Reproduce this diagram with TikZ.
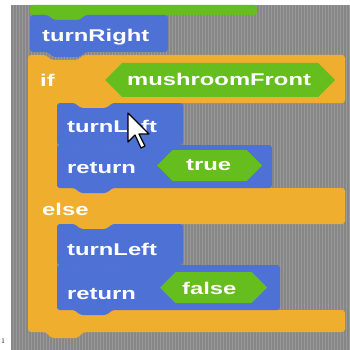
\documentclass[tikz,border=0pt]{standalone}
\usepackage{fontspec}
\usepackage{xcolor}
\usepackage{tikz}

\newfontfamily\blockfont{Liberation Sans}[FakeStretch=1.4]

\definecolor{blockblue}{HTML}{4E71D6}
\definecolor{ctrlorange}{HTML}{EFAE2E}
\definecolor{opgreen}{HTML}{66BD1E}
\definecolor{scriptgrey}{HTML}{878787}
\definecolor{stripegrey}{HTML}{999999}

\tikzset{
  blocktext/.style={text=white, inner sep=0pt, anchor=base west,
    font=\blockfont\bfseries\fontsize{17}{17}\selectfont},
}

\begin{document}
\begin{tikzpicture}[x=1pt, y=-1pt]
        \useasboundingbox (0,0) rectangle (350,350);

        % Command block: x, y, width, height
        \newcommand{\cmdblock}[4]{
            \fill[blockblue, rounded corners=3pt] (#1,#2) -- (#1+18,#2) -- (#1+23,#2+5) -- (#1+50,#2+5) -- (#1+55,#2) -- (#1+#3,#2) -- (#1+#3,#2+#4) -- (#1+55,#2+#4) -- (#1+50,#2+#4+5) -- (#1+23,#2+#4+5) -- (#1+18,#2+#4) -- (#1,#2+#4) -- cycle;
        }

        % Boolean reporter: left, top, right, bottom
        \newcommand{\hexreporter}[4]{
            \fill[opgreen] (#1,{(#2+#4)/2}) -- ({#1+(#4-#2)/2},#2) -- ({#3-(#4-#2)/2},#2) -- (#3,{(#2+#4)/2}) -- ({#3-(#4-#2)/2},#4) -- ({#1+(#4-#2)/2},#4) -- cycle;
        }

        % Script area
        \fill[scriptgrey] (11,5) rectangle (350,350);
        \foreach \x in {13,16,...,349}
            \draw[stripegrey, line width=1pt] (\x,5) -- (\x,350);

        % Block above
        \fill[opgreen, rounded corners=3pt] (30,5) -- (257,5) -- (257,15) -- (85,15) -- (80,20) -- (53,20) -- (48,15) -- (30,15) -- cycle;

        % if / else
        \fill[ctrlorange, rounded corners=3pt] (28,55) -- (46,55) -- (51,60) -- (78,60) -- (83,55) -- (345,55) -- (345,103)
            -- (112,103) -- (107,108) -- (80,108) -- (75,103) -- (57,103) -- (57,188) -- (345,188) -- (345,224)
            -- (112,224) -- (107,229) -- (80,229) -- (75,224) -- (57,224) -- (57,310) -- (345,310) -- (345,332)
            -- (83,332) -- (78,338) -- (51,338) -- (46,332) -- (28,332) -- cycle;

        \cmdblock{30}{15}{138}{37}
        \cmdblock{57}{145}{215}{43}
        \cmdblock{57}{103}{126}{42}
        \cmdblock{57}{265}{223}{45}
        \cmdblock{57}{224}{126}{41}

        \hexreporter{105}{63}{335}{97}
        \hexreporter{157}{150}{262}{181}
        \hexreporter{160}{272}{267}{303}

        % Texts
        \node[blocktext] (turnright) at (42,42) {turnRight};
        \node[blocktext] (iftext) at (40,87) {if};
        \node[blocktext] (cond) at (127,86) {mushroomFront};
        \node[blocktext] (turnleftA) at (67,132) {turnLeft};
        \node[blocktext] (returnA) at (67,173) {return};
        \node[blocktext] (truetext) at (186,170) {true};
        \node[blocktext] (elsetext) at (42,215) {else};
        \node[blocktext] (turnleftB) at (67,255) {turnLeft};
        \node[blocktext] (returnB) at (67,299) {return};
        \node[blocktext] (falsetext) at (182,294) {false};

        % Pointer
        \draw[fill=white, line join=round, line width=1.2pt] (128,113) -- ++(0,29) -- ++(7,-7) -- ++(6,13) -- ++(4,-2) -- ++(-6,-12) -- ++(10,0) -- cycle;

        \node[inner sep=0pt, font=\scriptsize] (pagenum) at (3,341) {1};

    \end{tikzpicture}
\end{document}
